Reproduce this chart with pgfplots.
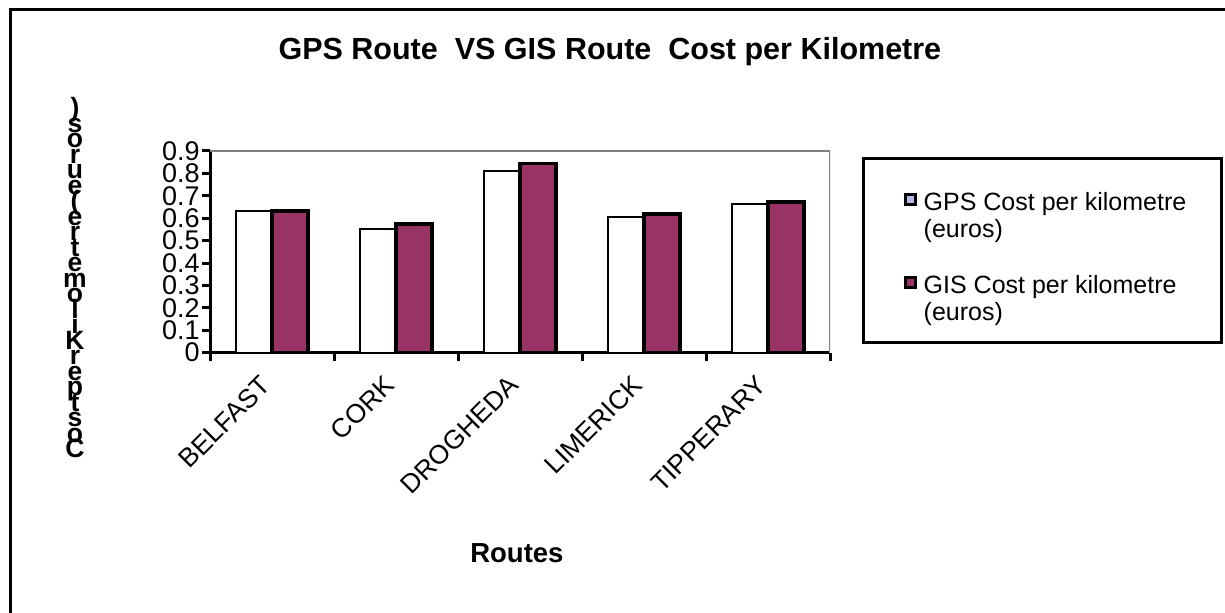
\documentclass[border=0pt]{standalone}
\usepackage{pgfplots}
\pgfplotsset{compat=1.18}
\usepackage{fontspec}
\setmainfont{Liberation Sans}
\definecolor{plum}{HTML}{993366}
\definecolor{lav}{HTML}{B8B8E8}
\definecolor{framegray}{HTML}{808080}
\begin{document}
\begin{tikzpicture}
\useasboundingbox (0,0) rectangle (612.5pt,306.5pt);
\draw[line width=1.5pt] (630pt,301.5pt) -- (5pt,301.5pt) -- (5pt,-20pt);
\begin{axis}[
  at={(105pt,130.15pt)}, anchor=south west,
  scale only axis, width=310pt, height=100.9pt,
  ymin=0, ymax=0.9, xmin=-0.5, xmax=4.5,
  axis lines=left, axis line style={-, black, line width=1.5pt},
  ytick={0,0.1,0.2,0.3,0.4,0.5,0.6,0.7,0.8,0.9},
  xtick={0,1,2,3,4},
  xticklabels={BELFAST,CORK,DROGHEDA,LIMERICK,TIPPERARY},
  minor xtick={-0.5,0.5,1.5,2.5,3.5,4.5},
  tick align=outside, major tick length=4pt, minor tick length=4pt,
  major x tick style={draw=none},
  minor x tick style={black, line width=1.5pt},
  ytick style={black, line width=1.5pt},
  /pgf/number format/.cd, fixed, precision=1, assume math mode=true, /pgfplots/.cd,
  yticklabel style={font=\fontsize{13.5}{13.5}\selectfont, inner sep=1pt},
  xticklabel style={font=\fontsize{13.25}{14}\selectfont, inner sep=0pt, xshift=-6.5pt, yshift=-6.5pt, rotate=45, anchor=north east},
  ylabel={)\\s\\o\\r\\u\\e\\(\\e\\r\\t\\e\\m\\o\\l\\i\\K\\r\\e\\p\\t\\s\\o\\C},
  ylabel style={rotate=-90, at={(rel axis cs:0,0.372)}, anchor=center, xshift=-67.5pt, inner sep=0pt, align=center,
    font={\bfseries\fontsize{13.25}{7.75}\selectfont\lineskiplimit=-\maxdimen\lineskip=0pt}},
  title={GPS Route\ \ VS GIS Route\ \ Cost per Kilometre},
  title style={at={(rel axis cs:0.645,1)}, anchor=base, yshift=39.5pt, font=\bfseries\fontsize{15.25}{16}\selectfont, inner sep=0pt},
  xlabel={Routes},
  xlabel style={at={(rel axis cs:0.495,0)}, anchor=base, yshift=-104.7pt, font=\bfseries\fontsize{13.75}{15}\selectfont, inner sep=0pt},
  legend style={at={(rel axis cs:1.0516,0.969)}, anchor=north west, draw=black, line width=1.5pt,
    inner xsep=6pt, inner ysep=16.75pt, row sep=24.5pt, column sep=3.5pt,
    nodes={inner sep=0pt, font=\fontsize{12.5}{13.5}\selectfont}},
  legend cell align=left,
]
\addplot[ybar, bar width=18pt, bar shift=-9pt, fill=white, draw=black, line width=1pt,
  legend image code/.code={\path (-14pt,0pt); \draw[black, line width=1.5pt, fill=lav] (0pt,2.25pt) rectangle (5pt,7.25pt);}]
  coordinates {(0,0.630) (1,0.552) (2,0.810) (3,0.606) (4,0.664)};
\addlegendentry{\parbox[c]{143pt}{\baselineskip=13.5pt GPS Cost per kilometre\\(euros)}}
\addplot[ybar, bar width=18pt, bar shift=9pt, fill=plum, draw=black, line width=1.7pt,
  legend image code/.code={\path (-14pt,0pt); \draw[black, line width=1.5pt, fill=plum] (0pt,2.25pt) rectangle (5pt,7.25pt);}]
  coordinates {(0,0.632) (1,0.574) (2,0.843) (3,0.619) (4,0.672)};
\addlegendentry{\parbox[c]{143pt}{\baselineskip=13.5pt GIS Cost per kilometre\\(euros)}}
\draw[framegray, line width=1.2pt] (rel axis cs:0,1) -- (rel axis cs:1,1) -- (rel axis cs:1,0);
\end{axis}
\end{tikzpicture}
\end{document}
